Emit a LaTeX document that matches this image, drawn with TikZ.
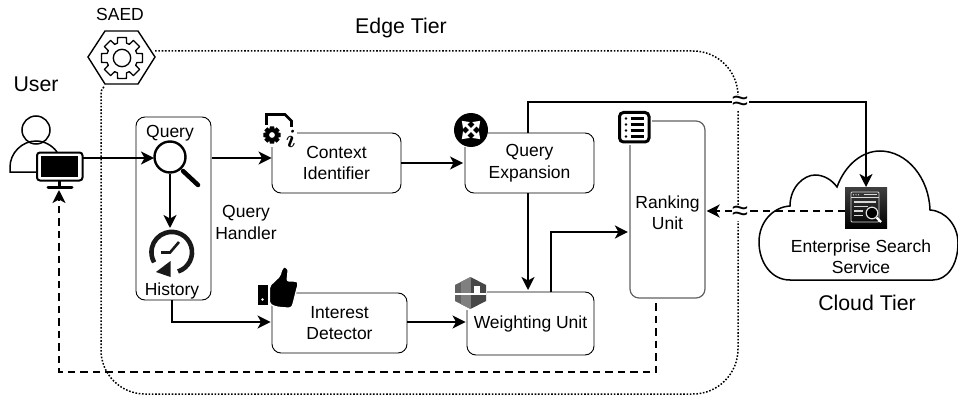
\documentclass[tikz,border=0pt]{standalone}
\usepackage{fontspec}
\setmainfont{Liberation Sans}
\usetikzlibrary{arrows.meta,shapes.geometric,calc}
\tikzset{
  flow/.style={line width=1.9pt,-{Stealth[length=13pt,width=13pt,inset=3.5pt]},black},
  flowdash/.style={flow,dash pattern=on 7.5pt off 5pt},
  unitbox/.style={draw=black,line width=0.9pt,fill=white,rounded corners=9pt,align=center,inner sep=0pt,font=\fontsize{17.5}{21.5}\selectfont},
  label17/.style={align=center,inner sep=0pt,font=\fontsize{17.5}{21.5}\selectfont},
  label21/.style={align=center,inner sep=0pt,font=\fontsize{21.3}{25}\selectfont},
  brk/.style={fill=white,inner sep=0pt,minimum width=17pt,minimum height=16pt,font=\fontsize{29}{16}\selectfont},
}
\begin{document}
\begin{tikzpicture}[x=1pt,y=-1pt]
\useasboundingbox (0,0) rectangle (958,401);

% Edge tier boundary
\draw[line width=1.5pt,dash pattern=on 1.6pt off 1.7pt,line cap=butt]
  (104,87) .. controls (101,89) and (101,92) .. (101,98) -- (101,350)
  arc[start angle=180,end angle=90,radius=44] -- (693,394)
  arc[start angle=90,end angle=0,radius=45] -- (738,96)
  arc[start angle=0,end angle=-90,radius=45] -- (155,51);

% Named anchors
\coordinate (monitor) at (83,158);
\coordinate (magW) at (154,158);
\coordinate (magE) at (212,158);
\coordinate (magS) at (170,174);
\coordinate (clockN) at (170,228);
\coordinate (svcN) at (866,187);
\coordinate (svcW) at (845,211);
\coordinate (userS) at (59,190);

% Query handler
\node[unitbox,minimum width=75pt,minimum height=183pt] (qh) at (173.5,208.5) {};
\node[label17] (qtext) at (170,133) {Query};
\node[label17] (htext) at (172,291) {History};
\node[label17] (qhtext) at (246,222.5) {Query\\Handler};

% Units
\node[unitbox,minimum width=129pt,minimum height=60pt] (ctx) at (336.5,163) {Context\\Identifier};
\node[unitbox,minimum width=129pt,minimum height=60pt] (qe) at (529.5,163) {Query\\Expansion};
\node[unitbox,draw=black!62,line width=1.2pt,minimum width=75pt,minimum height=177pt] (rank) at (667.5,209.5) {};
\node[label17] (ranktext) at (667.5,212.5) {Ranking\\Unit};
\node[unitbox,minimum width=135pt,minimum height=60pt] (intd) at (339.5,323) {Interest\\Detector};
\node[unitbox,minimum width=127pt,minimum height=63pt] (wu) at (530.5,323.5) {Weighting Unit};

% Cloud
\draw[line width=1.5pt,fill=white] (790,280)
  .. controls (771,280) and (759,262) .. (759,242)
  .. controls (759,222) and (773,207) .. (790,206)
  .. controls (790,187) and (804,175) .. (815,175)
  .. controls (824,175) and (832,180) .. (837,187)
  .. controls (845,165) and (862,151) .. (880,151)
  .. controls (907,151) and (929,178) .. (930,210)
  .. controls (946,211) and (958,226) .. (958,243)
  .. controls (958,265) and (947,280) .. (933,280) -- cycle;
\node[label17] (esstext) at (861,256.5) {Enterprise Search\\Service};
\node[label21] (cloudtier) at (867,303) {Cloud Tier};

% Connectors
\draw[flow] (monitor) -- (magW);
\draw[flow] (magE) -- (ctx.west |- magE);
\draw[flow] (magS) -- (clockN);
\draw[flow] (ctx.east) -- ([xshift=-1.5pt]qe.west);
\coordinate (hbend) at (172,322);
\draw[flow] (htext |- qh.south) -- (hbend) -- ([xshift=-1pt]intd.west |- hbend);
\draw[flow] (intd.east |- hbend) -- ([xshift=-1pt]wu.west |- hbend);
\coordinate (qedown) at (528,193);
\coordinate (wuin) at (528,290);
\draw[flow] (qedown) -- (wuin);
\coordinate (wuup) at (551,292);
\coordinate (rankin) at (551,232);
\draw[flow] (wuup) -- (rankin) -- ([xshift=-1.5pt]rank.west |- rankin);
\coordinate (qeup) at (528,133);
\draw[flow] (qeup) -- (528,102) -- (866,102) -- (svcN);
\draw[flowdash] (svcW) -- ([xshift=1pt]rank.east |- svcW);
\coordinate (rankout) at (656,303);
\draw[flowdash] (rankout) -- (656,372) -- (59,372) -- (userS);
\node[brk] (brk1) at (740,103) {\raisebox{-3.5pt}{≈}};
\node[brk] (brk2) at (740,213) {\raisebox{-3.5pt}{≈}};

% Edge Tier and other labels
\node[label21] (edge) at (401,28) {Edge Tier};
\node[label17] (saed) at (120,14) {SAED};
\node[label21] (user) at (36,84) {User};

% SAED hexagon and gear
\draw[line width=1.4pt,fill=white] (88,57) -- (105,31) -- (138,31) -- (155,57) -- (138,84) -- (105,84) -- cycle;
\draw[line width=1.3pt,line join=round] (122,58)
  ++(-12:21)
  \foreach \a in {0,45,...,315}{
    -- ($(122,58)+(\a-12:21)$) -- ($(122,58)+(\a+12:21)$) -- ($(122,58)+(\a+17:15.5)$) -- ($(122,58)+(\a+28:15.5)$)
  } -- cycle;
\draw[line width=1.3pt] (122,58) circle[radius=8.7];

% User icon
\draw[line width=1.5pt,fill=white] (36,130) circle[radius=14];
\draw[line width=1.5pt] (36,172) -- (10,172) -- (10,167)
  .. controls (10,153) and (22,141) .. (36,141) .. controls (44,141) and (52,145) .. (57,152);
\draw[line width=2pt,fill=white,rounded corners=3pt] (37,152.5) rectangle (82.5,180.5);
\fill (41,156) rectangle (78,177);
\draw[line width=3pt] (59.5,181) -- (59.5,186);
\draw[line width=3pt,line cap=round] (48,187) -- (72,187);

% Magnifier
\draw[line width=4.5pt,line cap=round] (183,171) -- (198,185);
\draw[line width=2.4pt,fill=white] (170,157) circle[radius=15.5];

% Clock
\fill[white] (172,252) circle[radius=23];
\draw[line width=4.6pt,black!90] (178,271.5) arc[start angle=72,end angle=-210,radius=20.3];
\fill[black!90] (156,272) -- (170.5,261) -- (170.5,277) -- cycle;
\draw[line width=2.6pt,black!90] (179,242) -- (170,252.5) -- (161,252.5);

% Context icon
\fill[white] (262,111) rectangle (297,146.5);
\draw[line width=2.6pt] (266.5,125) -- (266.5,114.5) -- (285,114.5) -- (291.5,121) -- (291.5,127);
\fill[even odd rule] (272,135)
  ++(-14:9)
  \foreach \a in {0,45,...,315}{
    -- ($(272,135)+(\a-14:9)$) -- ($(272,135)+(\a+14:9)$) -- ($(272,135)+(\a+20:6.8)$) -- ($(272,135)+(\a+25:6.8)$)
  } -- cycle (272,135) circle[radius=3];
\node[inner sep=0pt,font=\fontsize{30}{30}\selectfont] (ictext) at (291,138.5) {{\boldmath$i$}};

% Query expansion icon
\fill[white] (450,113) rectangle (488,147);
\fill (471,130) circle[radius=17];
\foreach \a in {45,135}{
  \draw[white,line width=2.8pt,{Triangle[length=6.5pt,width=9pt]}-{Triangle[length=6.5pt,width=9pt]}]
    ($(471,130)+(\a:13)$) -- ($(471,130)+(\a+180:13)$);
}

% Ranking icon
\fill[white] (615,109) rectangle (652,145);
\draw[line width=3pt,fill=white,rounded corners=4pt] (619.5,112.5) rectangle (649,142);
\foreach \yy in {118.5,124.5,130.5,136.5}{
  \fill (626,\yy) circle[radius=1.4];
  \draw[line width=2.2pt] (630.5,\yy) -- (643.5,\yy);
}

% Interest icon
\fill (257.5,284.5) rectangle (268,304.5);
\fill[white] (262.5,299.5) circle[radius=1.4];
\draw[white,line width=1.2pt,fill=black,rounded corners=2pt] (269.5,286)
  -- (280,276) -- (282,268.5) .. controls (285,266) and (288,269) .. (288,272) -- (287,281)
  -- (295,281) .. controls (298,282) and (298,285) .. (297,288) -- (293,304)
  .. controls (292,307) and (290,308) .. (287,308) -- (276,307) -- (269.5,304) -- cycle;

% Weighting icon
\fill[white] (453,275) rectangle (487,310);
\fill[black!62] (470.5,277) -- (455,285) -- (455,301) -- (470.5,309) -- cycle;
\fill[black!72] (470.5,277) -- (486,285) -- (486,301) -- (470.5,309) -- cycle;
\fill[black!50] (461,282) -- (470.5,277) -- (470.5,309) -- (461,304) -- cycle;
\fill[white] (455,292.5) rectangle (486,295);
\fill[white] (474,286) rectangle (480,293);

% Search service icon
\shade[top color=black!75,bottom color=black] (845,187) rectangle (887,228);
\draw[black!15,line width=0.9pt,rounded corners=1pt] (851,192) rectangle (879,222);
\draw[black!15,line width=0.9pt] (851,197.5) -- (879,197.5);
\draw[black!15,line width=1.1pt] (864,194.8) -- (877,194.8);
\foreach \xx in {853.5,856,858.5}{\fill[black!15] (\xx,194.8) circle[radius=0.7];}
\draw[black!15,line width=1.1pt] (854,202) -- (876,202) (854,206.5) -- (868,206.5) (854,211) -- (863,211) (854,215.5) -- (863,215.5);
\draw[black!10,line width=1.2pt,fill=black] (872,213) circle[radius=5.8];
\draw[white,line width=2.2pt] (876.5,217.5) -- (881,222);
\end{tikzpicture}
\end{document}
